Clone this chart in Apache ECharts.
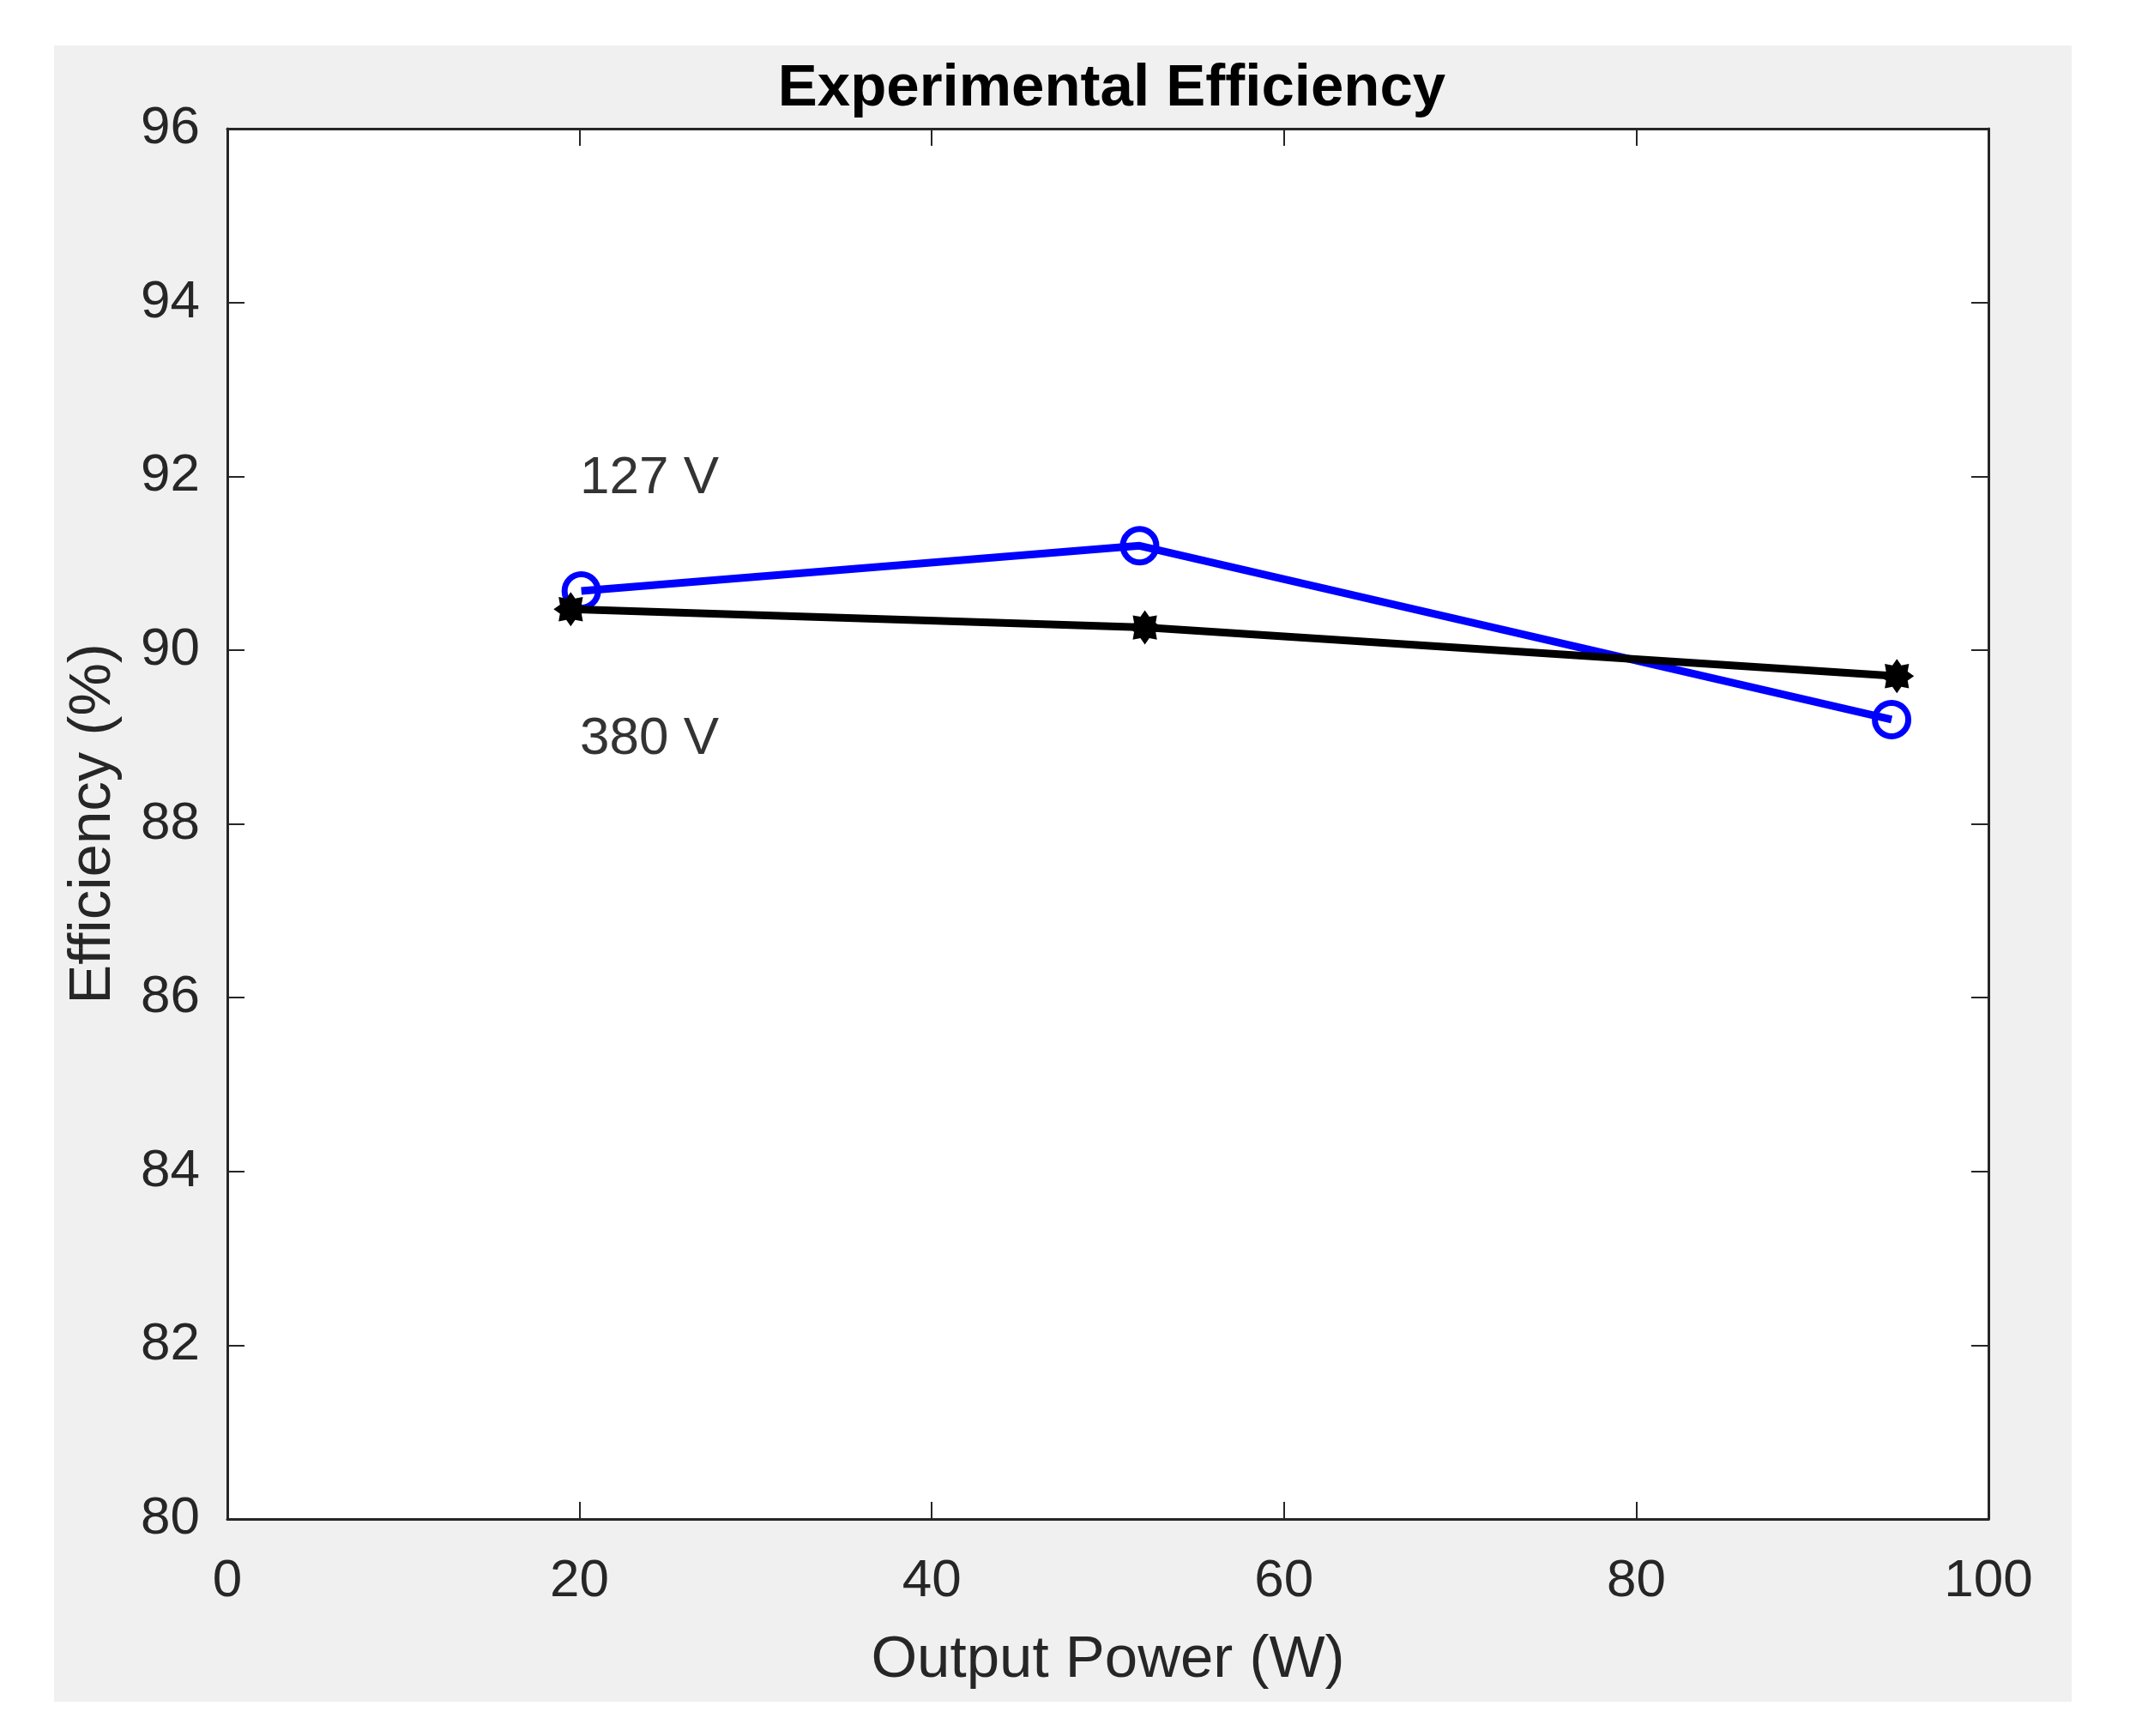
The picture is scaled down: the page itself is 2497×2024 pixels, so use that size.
<!DOCTYPE html>
<html>
<head>
<meta charset="utf-8">
<script src="https://cdn.jsdelivr.net/npm/echarts@6/dist/echarts.min.js"></script>
<style>
  html, body { margin: 0; padding: 0; background: #ffffff; }
  #chart { width: 2497px; height: 2024px; }
</style>
</head>
<body>
<div id="chart"></div>
<script>
// ---- data ----
const power127 = [20.1, 51.8, 94.5];
const eff127   = [90.68, 91.2, 89.2];
const power380 = [19.5, 52.1, 94.8];
const eff380   = [90.47, 90.26, 89.7];
const annoX    = [20, 20];
const annoY    = [91.97, 88.97];
const annoText = ['127 V', '380 V'];
const xMin = 0, xMax = 100, xStep = 20;
const yMin = 80, yMax = 96, yStep = 2;

// ---- styles ----
const axisColor = '#262626';
const fontFam = '"Liberation Sans", Arial, Helvetica, sans-serif';

// asterisk-like marker
const pts = [];
for (let i = 0; i < 16; i++) {
  const a = -Math.PI / 2 + i * Math.PI / 8;
  const r = (i % 2) ? 34 : 50;
  pts.push((50 + r * Math.cos(a)).toFixed(2) + ' ' + (50 + r * Math.sin(a)).toFixed(2));
}
const starPath = 'path://M' + pts.join(' L') + ' Z';

const chart = echarts.init(document.getElementById('chart'), null, { renderer: 'canvas' });

function baseAxis(pos, showLabel, isX) {
  return {
    type: 'value',
    position: pos,
    min: isX ? xMin : yMin,
    max: isX ? xMax : yMax,
    interval: isX ? xStep : yStep,
    axisLine: { show: true, onZero: false, lineStyle: { color: axisColor, width: 3 } },
    axisTick: { show: true, inside: true, length: 20, lineStyle: { color: axisColor, width: 2 } },
    axisLabel: {
      show: showLabel,
      color: axisColor,
      fontSize: 62,
      fontFamily: fontFam,
      margin: isX ? 42 : 32
    },
    splitLine: { show: false }
  };
}

const xMain = baseAxis('bottom', true, true);
xMain.name = 'Output Power (W)';
xMain.nameLocation = 'middle';
xMain.nameGap = 130;
xMain.nameTextStyle = { color: axisColor, fontSize: 69, fontFamily: fontFam };

const yMain = baseAxis('left', true, false);
yMain.name = 'Efficiency (%)';
yMain.nameLocation = 'middle';
yMain.nameGap = 122;
yMain.nameTextStyle = { color: axisColor, fontSize: 69, fontFamily: fontFam };

const option = {
  backgroundColor: '#ffffff',
  animation: false,
  graphic: [{
    type: 'rect',
    z: -100,
    shape: { x: 63, y: 53, width: 2352, height: 1931 },
    style: { fill: '#f0f0f0' },
    silent: true
  }],
  title: {
    text: 'Experimental Efficiency',
    left: 1291,
    textAlign: 'center',
    top: 64,
    textStyle: { color: '#000000', fontSize: 69, fontWeight: 'bold', fontFamily: fontFam }
  },
  grid: {
    left: 265, right: 179, top: 150, bottom: 253,
    show: true, backgroundColor: '#ffffff', borderWidth: 0,
    containLabel: false
  },
  xAxis: [xMain, baseAxis('top', false, true)],
  yAxis: [yMain, baseAxis('right', false, false)],
  series: [
    {
      name: '127 V',
      type: 'line',
      xAxisIndex: 0, yAxisIndex: 0,
      data: power127.map((x, i) => [x, eff127[i]]),
      symbol: 'circle',
      symbolSize: 39,
      itemStyle: { color: 'rgba(0,0,0,0)', borderColor: '#0000ff', borderWidth: 7 },
      lineStyle: { color: '#0000ff', width: 9 },
      z: 3
    },
    {
      name: '380 V',
      type: 'line',
      xAxisIndex: 0, yAxisIndex: 0,
      data: power380.map((x, i) => [x, eff380[i]]),
      symbol: starPath,
      symbolSize: 40,
      itemStyle: { color: '#000000' },
      lineStyle: { color: '#000000', width: 9 },
      z: 4
    },
    {
      name: 'labels',
      type: 'scatter',
      xAxisIndex: 0, yAxisIndex: 0,
      data: annoX.map((x, i) => [x, annoY[i], annoText[i]]),
      symbolSize: 1,
      itemStyle: { color: 'rgba(0,0,0,0)' },
      label: {
        show: true,
        position: 'right',
        distance: 0,
        formatter: p => p.value[2],
        color: '#000000',
        fontSize: 62,
        fontFamily: fontFam
      },
      silent: true,
      z: 5
    }
  ]
};
chart.setOption(option);
</script>
</body>
</html>
